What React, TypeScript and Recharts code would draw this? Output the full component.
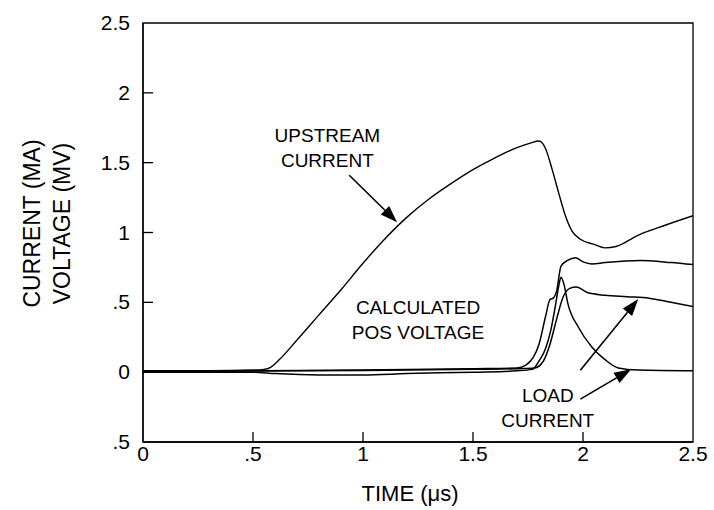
import React from "react";
import {
  LineChart,
  Line,
  XAxis,
  YAxis,
  ReferenceArea,
  ReferenceLine,
  ReferenceDot,
} from "recharts";

// time axis (µs) and tick labels
const xTicks = [0, 0.5, 1, 1.5, 2, 2.5];
const xTickLabels = ["0", ".5", "1", "1.5", "2", "2.5"];
const yTicks = [-0.5, 0, 0.5, 1, 1.5, 2, 2.5];
const yTickLabels = [".5", "0", ".5", "1", "1.5", "2", "2.5"];

// upstream current
const upT = [0, 0.3, 0.5, 0.55, 0.58, 0.62, 0.7, 0.8, 0.9, 1.0, 1.1, 1.2, 1.3, 1.4, 1.5, 1.6, 1.7, 1.76, 1.8, 1.83, 1.86, 1.89, 1.92, 1.95, 1.99, 2.05, 2.1, 2.15, 2.25, 2.37, 2.5];
const upV = [0.01, 0.01, 0.015, 0.02, 0.035, 0.09, 0.23, 0.41, 0.59, 0.78, 0.955, 1.11, 1.24, 1.35, 1.45, 1.535, 1.608, 1.64, 1.655, 1.6, 1.45, 1.28, 1.12, 1.01, 0.95, 0.915, 0.89, 0.9, 0.98, 1.05, 1.12];

// curve with plateau ~0.8
const aT = [0, 0.5, 1.0, 1.5, 1.7, 1.74, 1.8, 1.83, 1.85, 1.865, 1.88, 1.9, 1.93, 1.965, 2.0, 2.04, 2.1, 2.26, 2.4, 2.5];
const aV = [0.005, 0.01, 0.015, 0.025, 0.03, 0.05, 0.2, 0.4, 0.52, 0.53, 0.58, 0.76, 0.8, 0.82, 0.79, 0.775, 0.785, 0.8, 0.785, 0.77];

// load current (decaying)
const bT = [0, 0.5, 0.6, 0.8, 1.0, 1.2, 1.5, 1.7, 1.77, 1.8, 1.83, 1.855, 1.875, 1.89, 1.9, 1.915, 1.93, 1.98, 2.04, 2.1, 2.16, 2.25, 2.5];
const bV = [0, 0, -0.01, -0.02, -0.02, -0.01, 0.0, 0.01, 0.02, 0.08, 0.17, 0.31, 0.48, 0.62, 0.68, 0.62, 0.5, 0.32, 0.18, 0.09, 0.03, 0.015, 0.01];

// load current (middle plateau)
const cT = [0, 0.5, 1.0, 1.5, 1.7, 1.78, 1.82, 1.85, 1.88, 1.91, 1.94, 1.97, 2.02, 2.1, 2.2, 2.3, 2.4, 2.5];
const cV = [0.005, 0.008, 0.012, 0.02, 0.025, 0.03, 0.08, 0.2, 0.38, 0.54, 0.6, 0.61, 0.57, 0.55, 0.54, 0.53, 0.5, 0.47];

const toPts = (ts: number[], vs: number[]) => ts.map((t, i) => ({ t, v: vs[i] }));

const FONT = '"Liberation Sans", Arial, Helvetica, sans-serif';

const XTick = (p: any) => {
  const { x, y, payload } = p;
  const i = xTicks.indexOf(payload.value);
  const inner = payload.value > 0 && payload.value < 2.5;
  return (
    <g>
      {inner && <line x1={x} x2={x} y1={y} y2={y - 10} stroke="#000" strokeWidth={1.3} />}
      <text x={x} y={y + 19} textAnchor="middle" fontSize={21} fontFamily={FONT} fill="#000">
        {xTickLabels[i]}
      </text>
    </g>
  );
};

const YTick = (p: any) => {
  const { x, y, payload } = p;
  const i = yTicks.indexOf(payload.value);
  const inner = payload.value > -0.5 && payload.value < 2.5;
  return (
    <g>
      {inner && <line x1={x} x2={x + 10} y1={y} y2={y} stroke="#000" strokeWidth={1.3} />}
      <text x={x - 13} y={y + 7} textAnchor="end" fontSize={21} fontFamily={FONT} fill="#000">
        {yTickLabels[i]}
      </text>
    </g>
  );
};

const Note = ({ lines }: { lines: string[] }) => (p: any) => (
  <text x={p.cx} y={p.cy + 7} textAnchor="middle" fontSize={19} fontFamily={FONT} fill="#000">
    {lines.map((s, i) => (
      <tspan key={i} x={p.cx} dy={i === 0 ? 0 : 25}>
        {s}
      </tspan>
    ))}
  </text>
);

const Arrow = (p: any) => {
  const { x1, y1, x2, y2 } = p;
  const dx = x2 - x1;
  const dy = y2 - y1;
  const len = Math.sqrt(dx * dx + dy * dy);
  const ux = dx / len;
  const uy = dy / len;
  const hl = 17;
  const hw = 6;
  const bx = x2 - ux * hl;
  const by = y2 - uy * hl;
  return (
    <g>
      <line x1={x1} y1={y1} x2={bx} y2={by} stroke="#000" strokeWidth={1.6} />
      <polygon
        points={`${x2},${y2} ${bx - uy * hw},${by + ux * hw} ${bx + uy * hw},${by - ux * hw}`}
        fill="#000"
      />
    </g>
  );
};

export default function App() {
  return (
    <div style={{ position: "absolute", left: 0, top: 0, width: 714, height: 510, background: "#fff" }}>
      <LineChart width={714} height={510} margin={{ top: 23, right: 21, bottom: 0, left: 0 }}>
        <XAxis
          type="number"
          dataKey="t"
          domain={[0, 2.5]}
          ticks={xTicks}
          allowDataOverflow
          height={68}
          tickSize={0}
          tickMargin={0}
          tickLine={false}
          axisLine={{ stroke: "#000", strokeWidth: 1.3 }}
          tick={<XTick />}
          label={{
            content: (lp: any) => {
              const vb = lp.viewBox;
              return (
                <text x={vb.x + vb.width / 2 - 8} y={vb.y + 59} textAnchor="middle" fontSize={22} fontFamily={FONT} fill="#000">
                  TIME (μs)
                </text>
              );
            },
          }}
        />
        <YAxis
          type="number"
          domain={[-0.5, 2.5]}
          ticks={yTicks}
          allowDataOverflow
          width={143}
          tickSize={0}
          tickMargin={0}
          tickLine={false}
          axisLine={{ stroke: "#000", strokeWidth: 1.3 }}
          tick={<YTick />}
          label={{
            content: (lp: any) => {
              const vb = lp.viewBox;
              const cy = vb.y + vb.height / 2 - 9;
              return (
                <g fontSize={23} fontFamily={FONT} fill="#000">
                  <text x={40} y={cy} textAnchor="middle" transform={`rotate(-90, 40, ${cy})`}>
                    CURRENT (MA)
                  </text>
                  <text x={70} y={cy} textAnchor="middle" transform={`rotate(-90, 70, ${cy})`}>
                    VOLTAGE (MV)
                  </text>
                </g>
              );
            },
          }}
        />
        <ReferenceArea x1={0} x2={2.5} y1={-0.5} y2={2.5} fill="none" stroke="#000" strokeWidth={1.3} fillOpacity={0} />
        <Line data={toPts(upT, upV)} dataKey="v" type="monotone" stroke="#000" strokeWidth={1.4} dot={false} isAnimationActive={false} />
        <Line data={toPts(aT, aV)} dataKey="v" type="monotone" stroke="#000" strokeWidth={1.5} dot={false} isAnimationActive={false} />
        <Line data={toPts(bT, bV)} dataKey="v" type="monotone" stroke="#000" strokeWidth={1.5} dot={false} isAnimationActive={false} />
        <Line data={toPts(cT, cV)} dataKey="v" type="monotone" stroke="#000" strokeWidth={1.5} dot={false} isAnimationActive={false} />

        <ReferenceDot x={0.838} y={1.7} r={0} shape={Note({ lines: ["UPSTREAM", "CURRENT"] })} />
        <ReferenceDot x={1.25} y={0.465} r={0} shape={Note({ lines: ["CALCULATED", "POS VOLTAGE"] })} />
        <ReferenceDot x={1.84} y={-0.165} r={0} shape={Note({ lines: ["LOAD", "CURRENT"] })} />

        <ReferenceLine segment={[{ x: 0.9375, y: 1.41 }, { x: 1.155, y: 1.074 }]} shape={Arrow} />
        <ReferenceLine segment={[{ x: 1.988, y: 0.014 }, { x: 2.251, y: 0.523 }]} shape={Arrow} />
        <ReferenceLine segment={[{ x: 1.988, y: -0.193 }, { x: 2.219, y: 0.021 }]} shape={Arrow} />
      </LineChart>
    </div>
  );
}
